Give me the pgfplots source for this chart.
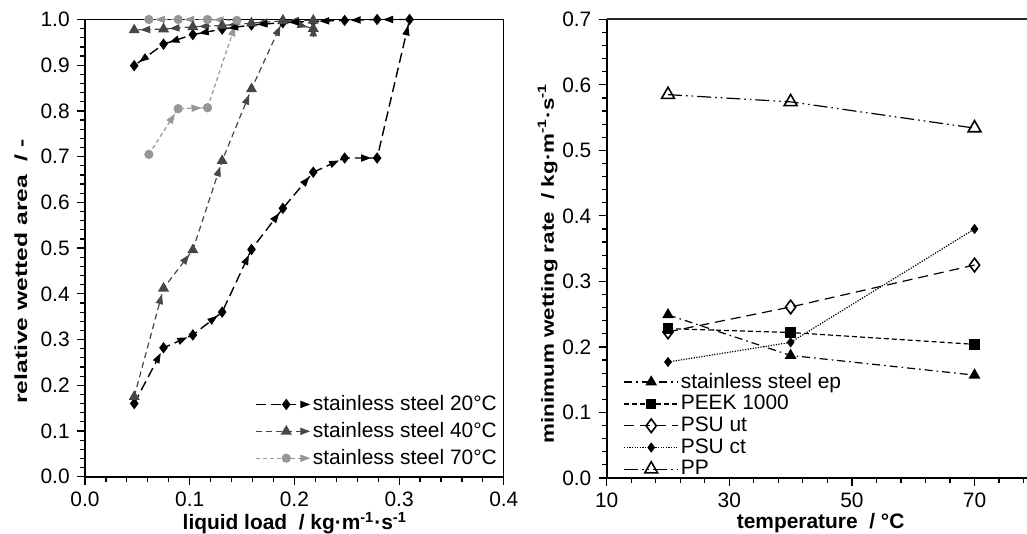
\documentclass[border=0pt]{standalone}
\usepackage{fontspec}
\setmainfont{Liberation Sans}
\usepackage{graphicx}
\usepackage{pgfplots}
\pgfplotsset{compat=1.18}
\usepackage{pgfplotstable}
\usetikzlibrary{arrows.meta}

\definecolor{c40}{RGB}{70,70,70}
\definecolor{c70}{RGB}{150,150,150}

% ---------- left panel: path of each series ----------
\pgfplotstableread{
x y
0.047 0.160
0.075 0.282
0.103 0.310
0.131 0.360
0.159 0.497
0.189 0.587
0.218 0.666
0.248 0.697
0.279 0.697
0.310 1.000
0.279 1.000
0.248 0.998
0.218 0.996
0.189 0.993
0.159 0.988
0.131 0.979
0.103 0.967
0.075 0.946
0.047 0.899
}\ssA
\pgfplotstableread{
x y
0.047 0.175
0.075 0.412
0.103 0.496
0.131 0.691
0.159 0.848
0.189 0.998
0.218 0.980
0.218 0.998
0.189 0.997
0.159 0.992
0.131 0.987
0.103 0.984
0.075 0.979
0.047 0.977
}\ssB
\pgfplotstableread{
x y
0.061 0.705
0.089 0.805
0.117 0.807
0.145 0.998
0.117 1.000
0.089 1.000
0.061 1.000
}\ssC
% ---------- segments (for the direction arrows) ----------
\pgfplotstableread{
x0 y0 x1 y1
0.047 0.160 0.075 0.282
0.075 0.282 0.103 0.310
0.103 0.310 0.131 0.360
0.131 0.360 0.159 0.497
0.159 0.497 0.189 0.587
0.189 0.587 0.218 0.666
0.218 0.666 0.248 0.697
0.248 0.697 0.279 0.697
0.279 0.697 0.310 1.000
0.310 1.000 0.279 1.000
0.279 1.000 0.248 0.998
0.248 0.998 0.218 0.996
0.218 0.996 0.189 0.993
0.189 0.993 0.159 0.988
0.159 0.988 0.131 0.979
0.131 0.979 0.103 0.967
0.103 0.967 0.075 0.946
0.075 0.946 0.047 0.899
}\segA
\pgfplotstableread{
x0 y0 x1 y1
0.047 0.175 0.075 0.412
0.075 0.412 0.103 0.496
0.103 0.496 0.131 0.691
0.131 0.691 0.159 0.848
0.159 0.848 0.189 0.998
0.189 0.998 0.218 0.980
0.218 0.980 0.218 0.998
0.218 0.998 0.189 0.997
0.189 0.997 0.159 0.992
0.159 0.992 0.131 0.987
0.131 0.987 0.103 0.984
0.103 0.984 0.075 0.979
0.075 0.979 0.047 0.977
}\segB
\pgfplotstableread{
x0 y0 x1 y1
0.061 0.705 0.089 0.805
0.089 0.805 0.117 0.807
0.117 0.807 0.145 0.998
0.145 0.998 0.117 1.000
0.117 1.000 0.089 1.000
0.089 1.000 0.061 1.000
}\segC

% ---------- right panel ----------
\pgfplotstableread{
T ep peek psuut psuct pp
20 0.249 0.228 0.223 0.177 0.585
40 0.187 0.222 0.261 0.207 0.574
70 0.157 0.204 0.325 0.380 0.534
}\mwr

\newcommand\ADX{(\thisrow{x1}-\thisrow{x0})}
\newcommand\ADY{(\thisrow{y1}-\thisrow{y0})}
\newcommand\ALEN{Lseg(\ADX,\ADY)}
\newcommand\AXE{\thisrow{x1}-8*\ADX/\ALEN}
\newcommand\AYE{\thisrow{y1}-8*\ADY/\ALEN}

\pgfplotsset{
  arrowplot/.style={forget plot, no markers, solid, line width=0.6pt,
    -{Triangle[length=5pt,width=3.6pt]},
    quiver={u={5*\ADX/\ALEN}, v={5*\ADY/\ALEN}}},
  arrowlegend/.style={legend image code/.code={
      \draw[##1,-{Triangle[length=5pt,width=3.6pt]}] (0pt,0pt) -- (27pt,0pt);
      \draw[##1] plot coordinates {(15pt,0pt)};}},
  linelegend/.style={legend image code/.code={
      \draw[mark repeat=2,mark phase=2,##1] plot coordinates {(0pt,0pt) (13.5pt,0pt) (27pt,0pt)};}},
  common/.style={
    scale only axis, clip=false,
    axis x line*=bottom, axis y line*=left,
    axis line style={line width=1.1pt, black},
    tick align=outside, major tick length=4pt, minor tick length=2.5pt,
    every tick/.style={black, line width=0.6pt},
    label style={font=\bfseries},
    legend cell align=left,
  },
}

\begin{document}
\fontsize{10.45pt}{12.5pt}\selectfont
\begin{tikzpicture}
\useasboundingbox (0,0) rectangle (513.5pt,267pt);
% ================= LEFT =================
\begin{axis}[common,
  at={(42.5pt,28.65pt)}, anchor=south west,
  width=209.4pt, height=228.6pt,
  xmin=0, xmax=0.4, ymin=0, ymax=1,
  xtick={0,0.1,0.2,0.3,0.4},
  ytick={0,0.1,0.2,0.3,0.4,0.5,0.6,0.7,0.8,0.9,1.0},
  minor x tick num=4, minor y tick num=4,
  tick label style={/pgf/number format/fixed, /pgf/number format/fixed zerofill,
    /pgf/number format/precision=1, /pgf/number format/assume math mode=true},
  declare function={Lseg(\a,\b)=sqrt((\a*523.5)^2+(\b*228.6)^2);},
  xlabel={liquid load\ \ / kg·m\textsuperscript{-1}·s\textsuperscript{-1}},
  ylabel={\scalebox{1.41}[1]{\fontsize{8.75pt}{10pt}\selectfont\bfseries relative wetted area\ \ / -}},
  xlabel style={at={(axis description cs:0.501,-0.1015)}, anchor=center},
  ylabel style={at={(axis description cs:-0.1528,0.449)}, anchor=center},
  legend style={at={(axis description cs:0.392,0.192)}, anchor=north west,
    draw=none, fill=none, row sep=2.3pt, nodes={inner sep=1pt}},
]
\draw[line width=0.6pt] (rel axis cs:0,1) -- (rel axis cs:1,1) -- (rel axis cs:1,0);

\addplot[black, line width=0.7pt, dash pattern=on 5pt off 2.5pt,
  mark=diamond*, mark size=2.3pt, mark options={solid}, arrowlegend] table[x=x,y=y] {\ssA};
\addlegendentry{stainless steel 20°C}
\addplot[c40, line width=0.6pt, dash pattern=on 3pt off 2pt,
  mark=triangle*, mark size=2.6pt, mark options={solid}, arrowlegend] table[x=x,y=y] {\ssB};
\addlegendentry{stainless steel 40°C}
\addplot[c70, line width=0.6pt, dash pattern=on 2pt off 1.5pt,
  mark=*, mark size=2pt, mark options={solid}, arrowlegend] table[x=x,y=y] {\ssC};
\addlegendentry{stainless steel 70°C}

\addplot[c70, arrowplot] table[x expr={\AXE}, y expr={\AYE}] {\segC};
\addplot[c40, arrowplot] table[x expr={\AXE}, y expr={\AYE}] {\segB};
\addplot[black, arrowplot] table[x expr={\AXE}, y expr={\AYE}] {\segA};
\end{axis}

% ================= RIGHT =================
\begin{axis}[common,
  at={(303.35pt,28pt)}, anchor=south west,
  width=210.15pt, height=229.35pt,
  xmin=10, xmax=78.56, ymin=0, ymax=0.7,
  xtick={10,30,50,70},
  minor xtick={14,18,22,26,34,38,42,46,54,58,62,66,74,78},
  ytick={0,0.1,0.2,0.3,0.4,0.5,0.6,0.7},
  minor y tick num=4,
  xticklabel style={/pgf/number format/assume math mode=true},
  yticklabel style={/pgf/number format/fixed, /pgf/number format/fixed zerofill,
    /pgf/number format/precision=1, /pgf/number format/assume math mode=true},
  xlabel={temperature\ \ / °C},
  ylabel={\scalebox{1.28}[1]{\fontsize{8.75pt}{10pt}\selectfont\bfseries minimum wetting rate\ \ / kg·m\textsuperscript{-1}·s\textsuperscript{-1}}},
  xlabel style={at={(axis description cs:0.509,-0.098)}, anchor=center},
  ylabel style={at={(axis description cs:-0.1404,0.468)}, anchor=center},
  legend style={at={(axis description cs:0.025,0.243)}, anchor=north west,
    draw=none, fill=none, row sep=0pt, nodes={inner sep=1pt}},
]
\draw[line width=0.8pt, black!85] (rel axis cs:0,1) -- (rel axis cs:1,1);

\addplot[black, line width=0.6pt, dash pattern=on 4pt off 2pt on 0.8pt off 2pt,
  mark=triangle*, mark size=2.8pt, mark options={solid}, linelegend] table[x=T,y=ep] {\mwr};
\addlegendentry{stainless steel ep}
\addplot[black, line width=0.6pt, dash pattern=on 2.5pt off 1.5pt,
  mark=square*, mark size=2.3pt, mark options={solid}, linelegend] table[x=T,y=peek] {\mwr};
\addlegendentry{PEEK 1000}
\addplot[black, line width=0.6pt, dash pattern=on 5pt off 3pt,
  mark=diamond, mark size=3.4pt, mark options={solid, fill=white, line width=0.8pt}, linelegend] table[x=T,y=psuut] {\mwr};
\addlegendentry{PSU ut}
\addplot[black, line width=0.6pt, dash pattern=on 0.6pt off 0.7pt,
  mark=diamond*, mark size=2.1pt, mark options={solid}, linelegend] table[x=T,y=psuct] {\mwr};
\addlegendentry{PSU ct}
\addplot[black, line width=0.6pt, dash pattern=on 7pt off 2pt on 0.8pt off 2pt on 0.8pt off 2pt,
  mark=triangle, mark size=3.7pt, mark options={solid, fill=white, line width=0.8pt}, linelegend] table[x=T,y=pp] {\mwr};
\addlegendentry{PP}
\end{axis}
\end{tikzpicture}
\end{document}
